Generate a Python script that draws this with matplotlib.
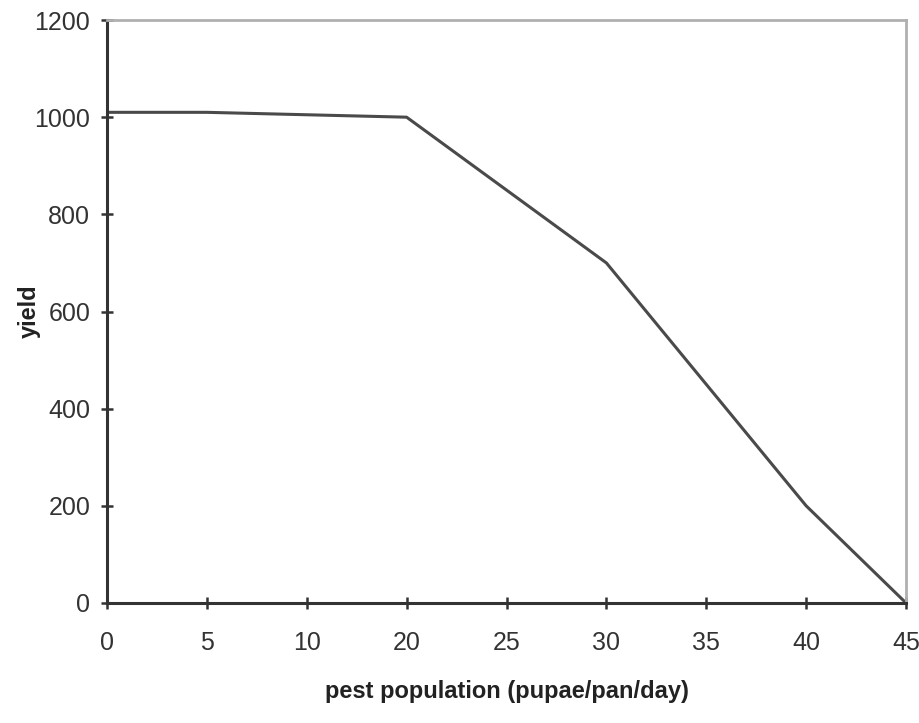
# 害虫密度と収量の関係（折れ線グラフ）
import matplotlib
matplotlib.use("Agg")
from matplotlib import pyplot as plt

# --------------------------------------------
# データ
# --------------------------------------------
# カテゴリ（横軸、15は無い）
pest_labels = ["0", "5", "10", "20", "25", "30", "35", "40", "45"]
# 収量
yield_values = [1010, 1010, 1005, 1000, 850, 700, 450, 200, 0]
y_ticks = [0, 200, 400, 600, 800, 1000, 1200]

# --------------------------------------------
# 描画
# --------------------------------------------
plt.rcParams['font.family'] = ['Liberation Sans', 'DejaVu Sans']

fig = plt.figure(figsize=(9.19, 7.23), dpi=100)
ax = fig.add_axes([0.1164, 0.166, 0.8695, 0.8063])

pos = list(range(len(pest_labels)))
ax.plot(pos, yield_values, color="#4a4a4a", linewidth=2.2)

ax.set_xlim(0, len(pest_labels) - 1)
ax.set_ylim(0, 1200)
ax.set_xticks(pos)
ax.set_xticklabels(pest_labels)
ax.set_yticks(y_ticks)

# 軸線
for side in ["left", "bottom"]:
    ax.spines[side].set_color("#333333")
    ax.spines[side].set_linewidth(2.2)
for side in ["top", "right"]:
    ax.spines[side].set_color("#b0b0b0")
    ax.spines[side].set_linewidth(2.0)

ax.tick_params(direction="inout", length=8, width=1.8, color="#333333",
               labelsize=18, labelcolor="#333333")
ax.tick_params(axis="x", pad=16)
ax.tick_params(axis="y", pad=8)

ax.set_xlabel("pest population (pupae/pan/day)", fontsize=17, fontweight="bold",
              color="#222222")
ax.xaxis.set_label_coords(0.5, -0.132)
ax.set_ylabel("yield", fontsize=17, fontweight="bold", color="#222222")
ax.yaxis.set_label_coords(-0.083, 0.5)

fig.savefig("out.png", dpi=100)
